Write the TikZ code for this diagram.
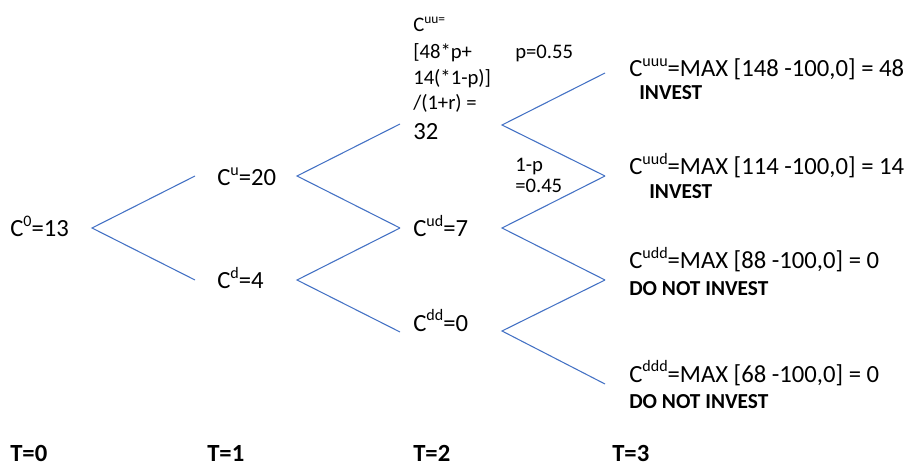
\documentclass[tikz,border=0pt]{standalone}
\usepackage{fontspec}
\usepackage{graphicx}
\setmainfont{Carlito}
\definecolor{branch}{HTML}{4472C4}
\newcommand\upt[1]{\raisebox{0.42em}{\scalebox{0.65}{#1}}}
\begin{document}
\begin{tikzpicture}[x=0.75pt,y=-0.75pt,
 lbl/.style={anchor=base west, inner sep=0pt, font=\fontsize{18.5}{22}\selectfont},
 sml/.style={anchor=base west, inner sep=0pt, font=\fontsize{15.5}{19}\selectfont},
 dec/.style={anchor=base west, inner sep=0pt, font=\fontsize{16}{19}\selectfont\bfseries},
 tlab/.style={anchor=base west, inner sep=0pt, font=\fontsize{18.5}{22}\selectfont\bfseries},
 br/.style={draw=branch, line width=0.8pt}]
\useasboundingbox (0,0) rectangle (916,466);
% branch points
\coordinate (v0) at (92,228);
\coordinate (a1u) at (195,176); \coordinate (a1d) at (195,280);
\coordinate (v1u) at (297,176); \coordinate (v1d) at (297,280);
\coordinate (a2uu) at (400,124); \coordinate (a2ud) at (400,228); \coordinate (a2dd) at (400,332);
\coordinate (v2uu) at (502,125); \coordinate (v2ud) at (502,228); \coordinate (v2dd) at (502,331);
\coordinate (a3uuu) at (605,73); \coordinate (a3uud) at (605,176);
\coordinate (a3udd) at (605,280); \coordinate (a3ddd) at (605,384);
% branches
\draw[br] (a1u) -- (v0) -- (a1d);
\draw[br] (a2uu) -- (v1u) -- (a2ud);
\draw[br] (a2ud) -- (v1d) -- (a2dd);
\draw[br] (a3uuu) -- (v2uu) -- (a3uud);
\draw[br] (a3uud) -- (v2ud) -- (a3udd);
\draw[br] (a3udd) -- (v2dd) -- (a3ddd);
% node labels
\node[lbl] (c0) at (10,237) {C\upt{0}=13};
\node[lbl] (cu) at (217,186) {C\upt{u}=20};
\node[lbl] (cd) at (217,289) {C\upt{d}=4};
\node[lbl] (cud) at (413,237) {C\upt{ud}=7};
\node[lbl] (cdd) at (413,331) {C\upt{dd}=0};
\node[sml] (cuu1) at (413,32) {C\upt{uu=}};
\node[sml] (cuu2) at (413,59) {[48*p+};
\node[sml] (cuu3) at (413,85) {14(*1-p)]};
\node[sml] (cuu4) at (413,110) {/(1+r) =};
\node[lbl] (cuu5) at (413,140) {32};
\node[sml] (pu) at (515,59) {p=0.55};
\node[sml] (pd1) at (515,172) {1-p};
\node[sml] (pd2) at (515,193) {=0.45};
\node[lbl] (cuuu) at (629,77) {C\upt{uuu}=MAX [148 -100,0] = 48};
\node[dec] (iuuu) at (639,100) {INVEST};
\node[lbl] (cuud) at (629,175) {C\upt{uud}=MAX [114 -100,0] = 14};
\node[dec] (iuud) at (649,199) {INVEST};
\node[lbl] (cudd) at (629,269) {C\upt{udd}=MAX [88 -100,0] = 0};
\node[dec] (iudd) at (629,296) {DO NOT INVEST};
\node[lbl] (cddd) at (629,382) {C\upt{ddd}=MAX [68 -100,0] = 0};
\node[dec] (iddd) at (629,408) {DO NOT INVEST};
% time labels
\node[tlab] (t0) at (10,461) {T=0};
\node[tlab] (t1) at (207,461) {T=1};
\node[tlab] (t2) at (413,461) {T=2};
\node[tlab] (t3) at (612,461) {T=3};
\end{tikzpicture}
\end{document}
